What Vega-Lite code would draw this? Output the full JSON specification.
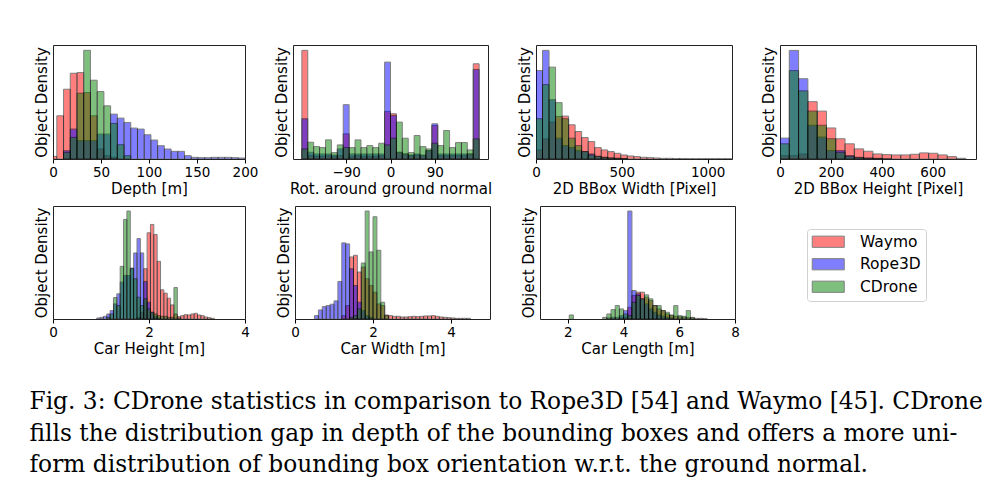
{
"$schema":"https://vega.github.io/schema/vega-lite/v6.json",
"background":"white",
"padding":{"left":29,"top":44,"right":0,"bottom":0},
"title":{"text":["Fig. 3: CDrone statistics in comparison to Rope3D [54] and Waymo [45]. CDrone","fills the distribution gap in depth of the bounding boxes and offers a more uni-","form distribution of bounding box orientation w.r.t. the ground normal."],"orient":"bottom","anchor":"start","font":"DejaVu Serif","fontSize":23.3,"fontWeight":"normal","lineHeight":31.7,"offset":34,"dx":-4,"color":"black"},
"datasets":{
"p1":[{"a":-3,"b":4,"Waymo":8},{"a":4,"b":11,"Waymo":130},{"a":11,"b":18,"Waymo":210,"Rope3D":25,"CDrone":20},{"a":18,"b":25,"Waymo":258,"Rope3D":90,"CDrone":65},{"a":25,"b":32,"Waymo":260,"Rope3D":55,"CDrone":198},{"a":32,"b":39,"Waymo":200,"Rope3D":55,"CDrone":327},{"a":39,"b":46,"Waymo":130,"Rope3D":55,"CDrone":237},{"a":46,"b":53,"Waymo":30,"Rope3D":75,"CDrone":203},{"a":53,"b":60,"Waymo":10,"Rope3D":75,"CDrone":160},{"a":60,"b":67,"Waymo":5,"Rope3D":135,"CDrone":107},{"a":67,"b":74,"Rope3D":123,"CDrone":43},{"a":74,"b":81,"Rope3D":110,"CDrone":10},{"a":81,"b":88,"Rope3D":93},{"a":88,"b":95,"Rope3D":90},{"a":95,"b":102,"Rope3D":73},{"a":102,"b":109,"Rope3D":57},{"a":109,"b":116,"Rope3D":40},{"a":116,"b":123,"Rope3D":30},{"a":123,"b":130,"Rope3D":23},{"a":130,"b":137,"Rope3D":23},{"a":137,"b":144,"Rope3D":10},{"a":144,"b":151,"Rope3D":5},{"a":151,"b":158,"Rope3D":4},{"a":158,"b":165,"Rope3D":4},{"a":165,"b":172,"Rope3D":5},{"a":172,"b":179,"Rope3D":5},{"a":179,"b":186,"Rope3D":5},{"a":186,"b":193,"Rope3D":4},{"a":193,"b":200,"Rope3D":3}],
"p2":[{"a":-180,"b":-168,"Waymo":324,"Rope3D":120,"CDrone":30},{"a":-168,"b":-156,"Waymo":10,"Rope3D":20,"CDrone":50},{"a":-156,"b":-144,"Waymo":8,"Rope3D":15,"CDrone":37},{"a":-144,"b":-132,"Waymo":8,"Rope3D":15,"CDrone":34},{"a":-132,"b":-120,"Waymo":10,"Rope3D":15,"CDrone":57},{"a":-120,"b":-108,"Waymo":8,"Rope3D":12,"CDrone":19},{"a":-108,"b":-96,"Waymo":10,"Rope3D":30,"CDrone":42},{"a":-96,"b":-84,"Waymo":75,"Rope3D":162,"CDrone":34},{"a":-84,"b":-72,"Waymo":8,"Rope3D":15,"CDrone":34},{"a":-72,"b":-60,"Waymo":10,"Rope3D":15,"CDrone":57},{"a":-60,"b":-48,"Waymo":8,"Rope3D":15,"CDrone":34},{"a":-48,"b":-36,"Waymo":8,"Rope3D":15,"CDrone":40},{"a":-36,"b":-24,"Waymo":8,"Rope3D":15,"CDrone":34},{"a":-24,"b":-12,"Waymo":10,"Rope3D":15,"CDrone":47},{"a":-12,"b":0,"Waymo":142,"Rope3D":289,"CDrone":42},{"a":0,"b":12,"Waymo":135,"Rope3D":130,"CDrone":62},{"a":12,"b":24,"Waymo":20,"Rope3D":20,"CDrone":110},{"a":24,"b":36,"Waymo":15,"Rope3D":15,"CDrone":62},{"a":36,"b":48,"Waymo":10,"Rope3D":12,"CDrone":19},{"a":48,"b":60,"Waymo":12,"Rope3D":15,"CDrone":70},{"a":60,"b":72,"Waymo":10,"Rope3D":12,"CDrone":37},{"a":72,"b":84,"Waymo":25,"Rope3D":25,"CDrone":30},{"a":84,"b":96,"Waymo":100,"Rope3D":105,"CDrone":47},{"a":96,"b":108,"Waymo":10,"Rope3D":15,"CDrone":40},{"a":108,"b":120,"Waymo":10,"Rope3D":15,"CDrone":85},{"a":120,"b":132,"Waymo":10,"Rope3D":15,"CDrone":34},{"a":132,"b":144,"Waymo":10,"Rope3D":15,"CDrone":49},{"a":144,"b":156,"Waymo":10,"Rope3D":15,"CDrone":49},{"a":156,"b":168,"Waymo":15,"Rope3D":15,"CDrone":27},{"a":168,"b":180,"Waymo":284,"Rope3D":267,"CDrone":60}],
"p3":[{"a":0,"b":38,"Waymo":27,"Rope3D":264,"CDrone":120},{"a":38,"b":76,"Waymo":60,"Rope3D":324,"CDrone":222},{"a":76,"b":114,"Waymo":110,"Rope3D":177,"CDrone":274},{"a":114,"b":152,"Waymo":127,"Rope3D":62,"CDrone":168},{"a":152,"b":190,"Waymo":128,"Rope3D":40,"CDrone":120},{"a":190,"b":228,"Waymo":102,"Rope3D":34,"CDrone":62},{"a":228,"b":266,"Waymo":82,"Rope3D":25,"CDrone":40},{"a":266,"b":304,"Waymo":64,"Rope3D":22,"CDrone":22},{"a":304,"b":342,"Waymo":52,"Rope3D":15,"CDrone":12},{"a":342,"b":380,"Waymo":34,"Rope3D":8,"CDrone":8},{"a":380,"b":418,"Waymo":27,"Rope3D":5,"CDrone":5},{"a":418,"b":456,"Waymo":22,"Rope3D":3,"CDrone":3},{"a":456,"b":494,"Waymo":17,"Rope3D":2,"CDrone":2},{"a":494,"b":532,"Waymo":12,"Rope3D":1,"CDrone":1},{"a":532,"b":570,"Waymo":9},{"a":570,"b":608,"Waymo":7},{"a":608,"b":646,"Waymo":5},{"a":646,"b":684,"Waymo":4},{"a":684,"b":722,"Waymo":3},{"a":722,"b":760,"Waymo":2},{"a":760,"b":798,"Waymo":2},{"a":798,"b":836,"Waymo":1.5},{"a":836,"b":874,"Waymo":1.5},{"a":874,"b":912,"Waymo":1},{"a":912,"b":950,"Waymo":1},{"a":950,"b":988,"Waymo":1},{"a":988,"b":1026,"Waymo":1},{"a":1026,"b":1064,"Waymo":1},{"a":1064,"b":1102,"Waymo":1},{"a":1102,"b":1140,"Waymo":1}],
"p4":[{"a":0,"b":36.5,"Waymo":10,"Rope3D":62,"CDrone":45},{"a":36.5,"b":73,"Waymo":10,"Rope3D":322,"CDrone":262},{"a":73,"b":109.5,"Waymo":15,"Rope3D":238,"CDrone":202},{"a":109.5,"b":146,"Waymo":170,"Rope3D":100,"CDrone":142},{"a":146,"b":182.5,"Waymo":142,"Rope3D":65,"CDrone":100},{"a":182.5,"b":219,"Waymo":92,"Rope3D":25,"CDrone":60},{"a":219,"b":255.5,"Waymo":60,"Rope3D":25,"CDrone":20},{"a":255.5,"b":292,"Waymo":45,"Rope3D":10,"CDrone":8},{"a":292,"b":328.5,"Waymo":30,"Rope3D":5,"CDrone":4},{"a":328.5,"b":365,"Waymo":23,"Rope3D":3,"CDrone":2},{"a":365,"b":401.5,"Waymo":15,"Rope3D":2,"CDrone":1},{"a":401.5,"b":438,"Waymo":13,"Rope3D":1},{"a":438,"b":474.5,"Waymo":12},{"a":474.5,"b":511,"Waymo":12},{"a":511,"b":547.5,"Waymo":14},{"a":547.5,"b":584,"Waymo":18},{"a":584,"b":620.5,"Waymo":17},{"a":620.5,"b":657,"Waymo":12},{"a":657,"b":693.5,"Waymo":7},{"a":693.5,"b":730,"Waymo":2}],
"p5":[{"a":0.91,"b":0.98,"Rope3D":3},{"a":0.98,"b":1.05,"Rope3D":5},{"a":1.05,"b":1.12,"Rope3D":8},{"a":1.12,"b":1.19,"Rope3D":15,"CDrone":5},{"a":1.19,"b":1.26,"Rope3D":25,"CDrone":15},{"a":1.26,"b":1.33,"Rope3D":45,"CDrone":64},{"a":1.33,"b":1.4,"Rope3D":75,"CDrone":40},{"a":1.4,"b":1.47,"Rope3D":110,"CDrone":157},{"a":1.47,"b":1.54,"Rope3D":130,"CDrone":297},{"a":1.54,"b":1.61,"Rope3D":130,"CDrone":322},{"a":1.61,"b":1.68,"Rope3D":152,"CDrone":150},{"a":1.68,"b":1.75,"Rope3D":197,"CDrone":120},{"a":1.75,"b":1.82,"Waymo":5,"Rope3D":240,"CDrone":65},{"a":1.82,"b":1.89,"Waymo":20,"Rope3D":197,"CDrone":40},{"a":1.89,"b":1.96,"Waymo":150,"Rope3D":112,"CDrone":60},{"a":1.96,"b":2.03,"Waymo":257,"Rope3D":50,"CDrone":30},{"a":2.03,"b":2.1,"Waymo":282,"Rope3D":20,"CDrone":20},{"a":2.1,"b":2.17,"Waymo":252,"Rope3D":8,"CDrone":15},{"a":2.17,"b":2.24,"Waymo":172,"Rope3D":3,"CDrone":10},{"a":2.24,"b":2.31,"Waymo":87,"CDrone":8},{"a":2.31,"b":2.38,"Waymo":77,"CDrone":8},{"a":2.38,"b":2.45,"Waymo":62,"CDrone":5},{"a":2.45,"b":2.52,"Waymo":42,"CDrone":5},{"a":2.52,"b":2.59,"Waymo":15,"CDrone":94},{"a":2.59,"b":2.66,"Waymo":7,"CDrone":3},{"a":2.66,"b":2.73,"Waymo":10},{"a":2.73,"b":2.8,"Waymo":13},{"a":2.8,"b":2.87,"Waymo":12},{"a":2.87,"b":2.94,"Waymo":15},{"a":2.94,"b":3.01,"Waymo":17},{"a":3.01,"b":3.08,"Waymo":12},{"a":3.08,"b":3.15,"Waymo":10},{"a":3.15,"b":3.22,"Waymo":6},{"a":3.22,"b":3.29,"Waymo":4},{"a":3.29,"b":3.36,"Waymo":2}],
"p6":[{"a":0.5,"b":0.6,"Rope3D":10},{"a":0.6,"b":0.7,"Rope3D":27},{"a":0.7,"b":0.8,"Rope3D":37},{"a":0.8,"b":0.9,"Rope3D":40},{"a":0.9,"b":1.0,"Rope3D":44},{"a":1.0,"b":1.1,"Rope3D":54},{"a":1.1,"b":1.2,"Rope3D":112},{"a":1.2,"b":1.3,"Rope3D":227,"Waymo":10},{"a":1.3,"b":1.4,"Rope3D":224,"Waymo":40},{"a":1.4,"b":1.5,"Rope3D":150,"Waymo":185,"CDrone":5},{"a":1.5,"b":1.6,"Rope3D":100,"Waymo":190,"CDrone":10},{"a":1.6,"b":1.7,"Rope3D":50,"Waymo":140,"CDrone":30},{"a":1.7,"b":1.8,"Rope3D":25,"Waymo":155,"CDrone":167},{"a":1.8,"b":1.9,"Rope3D":10,"Waymo":120,"CDrone":322},{"a":1.9,"b":2.0,"Rope3D":5,"Waymo":100,"CDrone":200},{"a":2.0,"b":2.1,"Waymo":80,"CDrone":305},{"a":2.1,"b":2.2,"Waymo":45,"CDrone":205},{"a":2.2,"b":2.3,"Waymo":40,"CDrone":50},{"a":2.3,"b":2.4,"Waymo":12,"CDrone":10},{"a":2.4,"b":2.5,"Waymo":10},{"a":2.5,"b":2.6,"Waymo":8},{"a":2.6,"b":2.7,"Waymo":8},{"a":2.7,"b":2.8,"Waymo":6},{"a":2.8,"b":2.9,"Waymo":6},{"a":2.9,"b":3.0,"Waymo":7},{"a":3.0,"b":3.1,"Waymo":8},{"a":3.1,"b":3.2,"Waymo":7},{"a":3.2,"b":3.3,"Waymo":8},{"a":3.3,"b":3.4,"Waymo":9},{"a":3.4,"b":3.5,"Waymo":9},{"a":3.5,"b":3.6,"Waymo":10},{"a":3.6,"b":3.7,"Waymo":8},{"a":3.7,"b":3.8,"Waymo":6},{"a":3.8,"b":3.9,"Waymo":5},{"a":3.9,"b":4.0,"Waymo":4},{"a":4.0,"b":4.1,"Waymo":3},{"a":4.1,"b":4.2,"Waymo":2},{"a":4.2,"b":4.3,"Waymo":2},{"a":4.3,"b":4.4,"Waymo":2},{"a":4.4,"b":4.5,"Waymo":2}],
"p7":[{"a":2.05,"b":2.2,"CDrone":12},{"a":3.25,"b":3.4,"CDrone":5},{"a":3.4,"b":3.55,"CDrone":15,"Rope3D":3},{"a":3.55,"b":3.7,"CDrone":28,"Rope3D":5},{"a":3.7,"b":3.85,"CDrone":40,"Rope3D":5},{"a":3.85,"b":4.0,"CDrone":30,"Rope3D":10,"Waymo":3},{"a":4.0,"b":4.15,"CDrone":15,"Rope3D":25,"Waymo":5},{"a":4.15,"b":4.3,"CDrone":10,"Rope3D":322,"Waymo":35},{"a":4.3,"b":4.45,"CDrone":50,"Rope3D":85,"Waymo":70},{"a":4.45,"b":4.6,"CDrone":70,"Rope3D":75,"Waymo":80},{"a":4.6,"b":4.75,"CDrone":60,"Rope3D":60,"Waymo":80},{"a":4.75,"b":4.9,"CDrone":72,"Rope3D":45,"Waymo":65},{"a":4.9,"b":5.05,"CDrone":60,"Rope3D":30,"Waymo":55},{"a":5.05,"b":5.2,"CDrone":40,"Rope3D":20,"Waymo":40},{"a":5.2,"b":5.35,"CDrone":40,"Rope3D":12,"Waymo":30},{"a":5.35,"b":5.5,"CDrone":25,"Rope3D":8,"Waymo":25},{"a":5.5,"b":5.65,"CDrone":20,"Rope3D":5,"Waymo":15},{"a":5.65,"b":5.8,"CDrone":12,"Rope3D":3,"Waymo":10},{"a":5.8,"b":5.95,"CDrone":40,"Waymo":8},{"a":5.95,"b":6.1,"CDrone":10,"Waymo":6},{"a":6.1,"b":6.25,"CDrone":8,"Waymo":5},{"a":6.25,"b":6.4,"CDrone":25,"Waymo":4},{"a":6.4,"b":6.55,"CDrone":5,"Waymo":3},{"a":6.55,"b":6.7,"Waymo":2},{"a":6.7,"b":6.85,"Waymo":2},{"a":6.85,"b":7.0,"Waymo":1}]
},
"vconcat":[
{"hconcat":[
{"width":192,"height":114,"data":{"name":"p1"},"transform":[{"fold":["Waymo","Rope3D","CDrone"],"as":["s","v"]},{"filter":"datum.v > 0"}],"mark":{"type":"rect","opacity":0.5,"stroke":"black","strokeWidth":1,"clip":true},"encoding":{"x":{"field":"a","type":"quantitative","scale":{"domain":[0,200],"nice":false,"zero":false},"axis":{"values":[0,50,100,150,200],"title":"Depth [m]"}},"x2":{"field":"b"},"y":{"field":"v","type":"quantitative","scale":{"domain":[0,343],"nice":false},"axis":{"title":"Object Density"}},"y2":{"datum":0},"color":{"field":"s","type":"nominal","scale":{"domain":["Waymo","Rope3D","CDrone"],"range":["#ff0000","#0000ff","#008000"]},"title":null},"order":{"field":"s","sort":"descending"}}},
{"width":195,"height":114,"data":{"name":"p2"},"transform":[{"fold":["Waymo","Rope3D","CDrone"],"as":["s","v"]},{"filter":"datum.v > 0"}],"mark":{"type":"rect","opacity":0.5,"stroke":"black","strokeWidth":1,"clip":true},"encoding":{"x":{"field":"a","type":"quantitative","scale":{"domain":[-198,198],"nice":false,"zero":false},"axis":{"values":[-90,0,90],"title":"Rot. around ground normal"}},"x2":{"field":"b"},"y":{"field":"v","type":"quantitative","scale":{"domain":[0,340],"nice":false},"axis":{"title":"Object Density"}},"y2":{"datum":0},"color":{"field":"s","type":"nominal","scale":{"domain":["Waymo","Rope3D","CDrone"],"range":["#ff0000","#0000ff","#008000"]},"title":null},"order":{"field":"s","sort":"descending"}}},
{"width":196,"height":114,"data":{"name":"p3"},"transform":[{"fold":["Waymo","Rope3D","CDrone"],"as":["s","v"]},{"filter":"datum.v > 0"}],"mark":{"type":"rect","opacity":0.5,"stroke":"black","strokeWidth":1,"clip":true},"encoding":{"x":{"field":"a","type":"quantitative","scale":{"domain":[0,1142],"nice":false,"zero":false},"axis":{"values":[0,500,1000],"format":"d","title":"2D BBox Width [Pixel]"}},"x2":{"field":"b"},"y":{"field":"v","type":"quantitative","scale":{"domain":[0,340],"nice":false},"axis":{"title":"Object Density"}},"y2":{"datum":0},"color":{"field":"s","type":"nominal","scale":{"domain":["Waymo","Rope3D","CDrone"],"range":["#ff0000","#0000ff","#008000"]},"title":null},"order":{"field":"s","sort":"descending"}}},
{"width":196,"height":114,"data":{"name":"p4"},"transform":[{"fold":["Waymo","Rope3D","CDrone"],"as":["s","v"]},{"filter":"datum.v > 0"}],"mark":{"type":"rect","opacity":0.5,"stroke":"black","strokeWidth":1,"clip":true},"encoding":{"x":{"field":"a","type":"quantitative","scale":{"domain":[0,770],"nice":false,"zero":false},"axis":{"values":[0,200,400,600],"title":"2D BBox Height [Pixel]"}},"x2":{"field":"b"},"y":{"field":"v","type":"quantitative","scale":{"domain":[0,338],"nice":false},"axis":{"title":"Object Density"}},"y2":{"datum":0},"color":{"field":"s","type":"nominal","scale":{"domain":["Waymo","Rope3D","CDrone"],"range":["#ff0000","#0000ff","#008000"]},"title":null},"order":{"field":"s","sort":"descending"}}}
],"spacing":48,"bounds":"flush"},
{"hconcat":[
{"width":192,"height":113,"data":{"name":"p5"},"transform":[{"fold":["Waymo","Rope3D","CDrone"],"as":["s","v"]},{"filter":"datum.v > 0"}],"mark":{"type":"rect","opacity":0.5,"stroke":"black","strokeWidth":1,"clip":true},"encoding":{"x":{"field":"a","type":"quantitative","scale":{"domain":[0,4],"nice":false,"zero":false},"axis":{"values":[0,2,4],"title":"Car Height [m]"}},"x2":{"field":"b"},"y":{"field":"v","type":"quantitative","scale":{"domain":[0,337],"nice":false},"axis":{"title":"Object Density"}},"y2":{"datum":0},"color":{"field":"s","type":"nominal","scale":{"domain":["Waymo","Rope3D","CDrone"],"range":["#ff0000","#0000ff","#008000"]},"title":null},"order":{"field":"s","sort":"descending"}}},
{"width":195,"height":113,"data":{"name":"p6"},"transform":[{"fold":["Waymo","Rope3D","CDrone"],"as":["s","v"]},{"filter":"datum.v > 0"}],"mark":{"type":"rect","opacity":0.5,"stroke":"black","strokeWidth":1,"clip":true},"encoding":{"x":{"field":"a","type":"quantitative","scale":{"domain":[0,5],"nice":false,"zero":false},"axis":{"values":[0,2,4],"title":"Car Width [m]"}},"x2":{"field":"b"},"y":{"field":"v","type":"quantitative","scale":{"domain":[0,337],"nice":false},"axis":{"title":"Object Density"}},"y2":{"datum":0},"color":{"field":"s","type":"nominal","scale":{"domain":["Waymo","Rope3D","CDrone"],"range":["#ff0000","#0000ff","#008000"]},"title":null},"order":{"field":"s","sort":"descending"}}},
{"width":195,"height":113,"data":{"name":"p7"},"transform":[{"fold":["Waymo","Rope3D","CDrone"],"as":["s","v"]},{"filter":"datum.v > 0"}],"mark":{"type":"rect","opacity":0.5,"stroke":"black","strokeWidth":1,"clip":true},"encoding":{"x":{"field":"a","type":"quantitative","scale":{"domain":[1,8],"nice":false,"zero":false},"axis":{"values":[2,4,6,8],"title":"Car Length [m]"}},"x2":{"field":"b"},"y":{"field":"v","type":"quantitative","scale":{"domain":[0,337],"nice":false},"axis":{"title":"Object Density"}},"y2":{"datum":0},"color":{"field":"s","type":"nominal","scale":{"domain":["Waymo","Rope3D","CDrone"],"range":["#ff0000","#0000ff","#008000"]},"title":null},"order":{"field":"s","sort":"descending"}}}
],"spacing":50,"bounds":"flush"}
],
"spacing":8,
"config":{
"view":{"stroke":"#222","strokeWidth":1},
"font":"DejaVu Sans",
"axis":{"grid":false,"labelFont":"DejaVu Sans","titleFont":"DejaVu Sans","labelFontSize":13.5,"titleFontSize":15,"titleFontWeight":"normal","labelColor":"black","titleColor":"black","tickColor":"black","domain":false},
"axisX":{"ticks":true,"tickSize":4,"labelPadding":2,"titlePadding":3,"labelFlush":false,"labelOverlap":false},
"axisY":{"ticks":false,"labels":false,"titlePadding":4,"domain":false},
"legend":{"orient":"none","legendX":754,"legendY":184,"symbolType":"M-2.286,-0.8H2.286V0.8H-2.286Z","symbolSize":196,"symbolOffset":8.5,"symbolOpacity":0.5,"symbolStrokeColor":"black","symbolStrokeWidth":1,"labelFont":"DejaVu Sans","labelFontSize":15.5,"labelColor":"black","strokeColor":"#d0d0d0","fillColor":"white","cornerRadius":3,"padding":5,"rowPadding":5.5,"labelOffset":24}
}
}
